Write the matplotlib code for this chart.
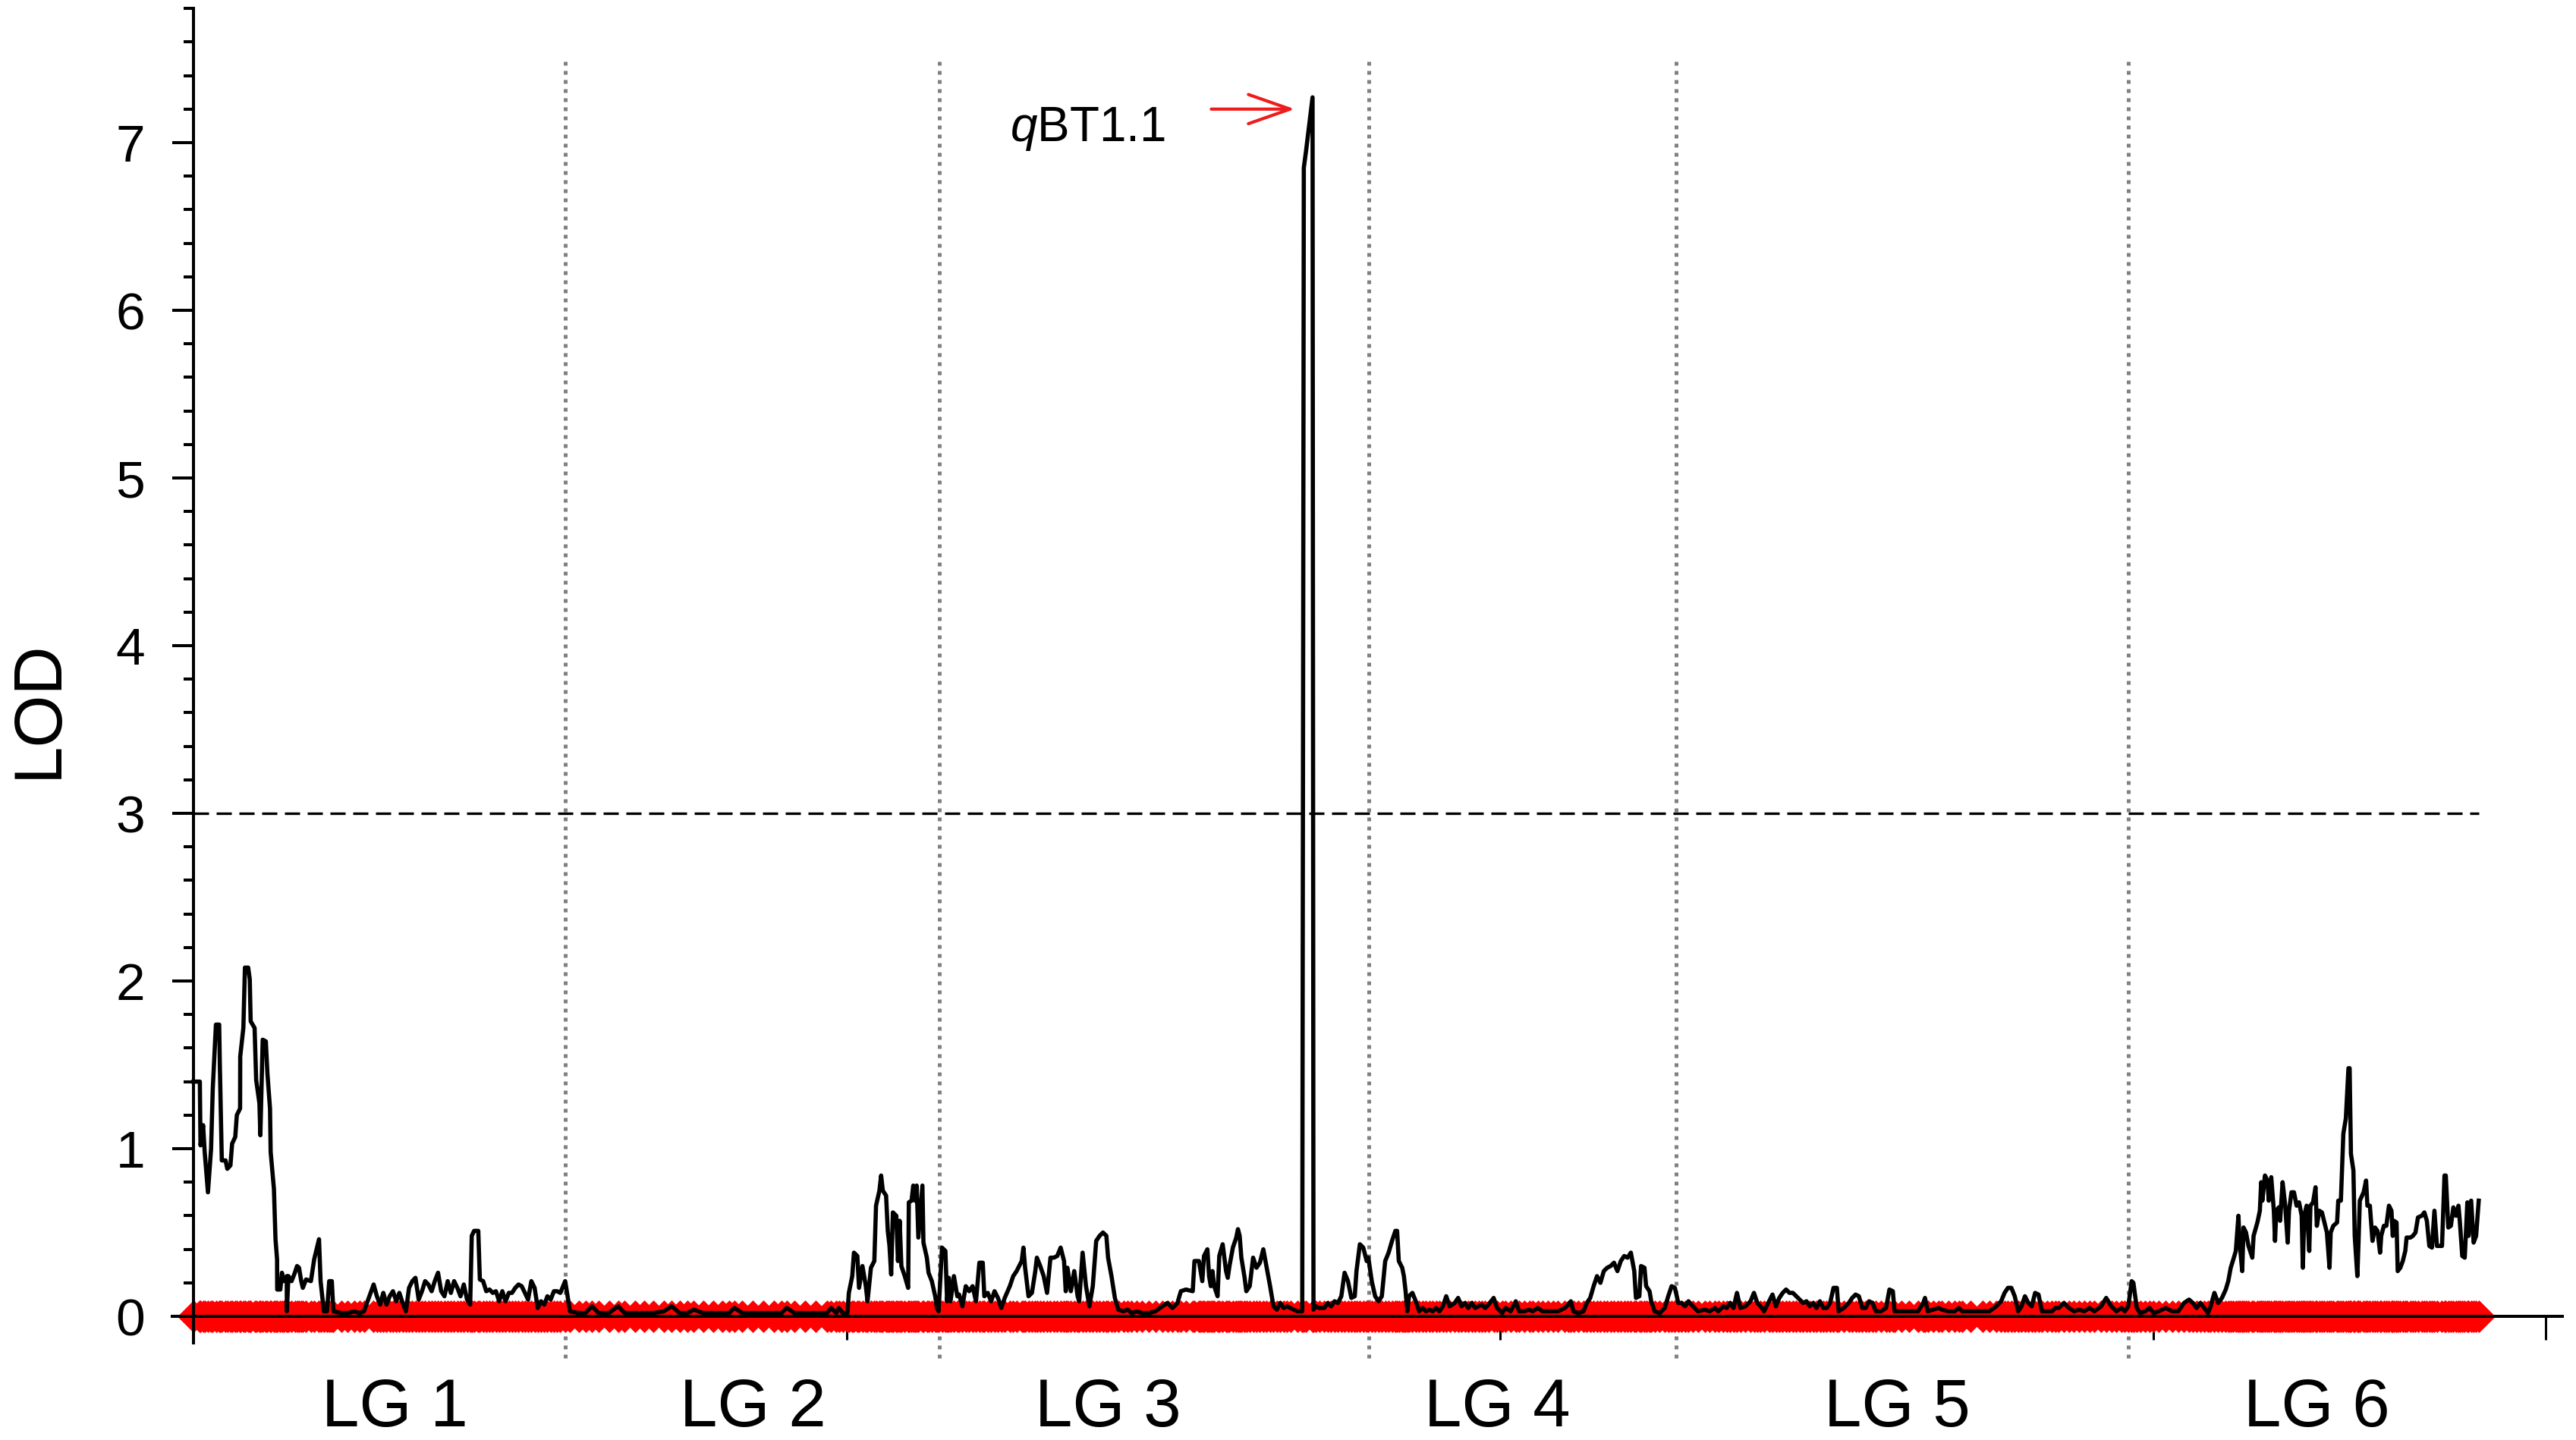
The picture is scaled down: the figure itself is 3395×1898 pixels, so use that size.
import matplotlib
matplotlib.use('Agg')
import matplotlib.pyplot as plt
import numpy as np
from matplotlib.ticker import MultipleLocator

plt.rcParams['font.family'] = 'Liberation Sans'
plt.rcParams['mathtext.fontset'] = 'custom'
plt.rcParams['mathtext.it'] = 'Liberation Sans:italic'
plt.rcParams['mathtext.rm'] = 'Liberation Sans'

# (position cM, LOD), one list per linkage group
lg1 = [(0, 1.40), (4.9, 1.40), (5.4, 1.02), (7.4, 1.14), (8.6, 0.98), (11.1, 0.74), (13.5, 1.00),
       (14.8, 1.36), (17.2, 1.74), (19.7, 1.74), (20.2, 1.50), (21.7, 0.93), (24.6, 0.93), (25.9, 0.88),
       (28.3, 0.90), (29.6, 1.03), (32.0, 1.07), (33.2, 1.20), (35.7, 1.24), (35.8, 1.55), (38.2, 1.72),
       (39.4, 2.08), (41.9, 2.08), (43.1, 2.01), (43.8, 1.76), (46.8, 1.72), (48.0, 1.41), (50.5, 1.27),
       (51.2, 1.08), (53.0, 1.65), (55.4, 1.64), (56.6, 1.45), (58.6, 1.24), (59.1, 0.98), (61.6, 0.76),
       (62.8, 0.46), (64.0, 0.34), (64.1, 0.16), (66.5, 0.16), (67.7, 0.26), (69.0, 0.21), (71.4, 0.24),
       (71.5, 0.03), (72.7, 0.24), (75.1, 0.21), (77.6, 0.26), (79.3, 0.30), (80.8, 0.29), (82.5, 0.21),
       (83.7, 0.17), (86.2, 0.22), (89.9, 0.21), (92.4, 0.34), (96.1, 0.46), (97.3, 0.21), (99.8, 0.03),
       (102.2, 0.03), (103.9, 0.21), (105.9, 0.21), (107.1, 0.03), (113.3, 0.02), (118.0, 0.02),
       (123.2, 0.03), (127.0, 0.02), (130.5, 0.03), (137.9, 0.19), (140.4, 0.12), (142.9, 0.07),
       (145.3, 0.14), (147.8, 0.07), (150.2, 0.12), (152.7, 0.15), (155.2, 0.09), (157.6, 0.14),
       (160.1, 0.08), (162.6, 0.03), (165.0, 0.17), (167.5, 0.21), (169.9, 0.23), (172.4, 0.10),
       (174.9, 0.15), (177.3, 0.21), (179.8, 0.19), (182.3, 0.15), (184.7, 0.21), (187.2, 0.26),
       (189.6, 0.15), (192.1, 0.12), (194.6, 0.21), (197.0, 0.14), (199.5, 0.21), (202.0, 0.17),
       (204.4, 0.12), (206.9, 0.19), (209.4, 0.10), (211.8, 0.07), (213.0, 0.48), (214.8, 0.51),
       (218.0, 0.51), (219.2, 0.22), (221.7, 0.21), (224.1, 0.15), (226.6, 0.16), (229.1, 0.14),
       (231.5, 0.15), (234.0, 0.09), (236.4, 0.15), (238.9, 0.09), (241.4, 0.14), (243.8, 0.14),
       (246.3, 0.17), (248.8, 0.19), (251.2, 0.18), (253.7, 0.14), (256.1, 0.10), (258.6, 0.21),
       (261.1, 0.17), (263.5, 0.05), (266.0, 0.09), (268.5, 0.07), (270.9, 0.12), (273.4, 0.10),
       (275.9, 0.15), (278.3, 0.15), (280.8, 0.14), (284.5, 0.21)]

lg2 = [(288.2, 0.03), (295, 0.02), (300, 0.02), (305, 0.06), (310, 0.02), (318, 0.02), (325, 0.06),
       (330, 0.02), (338, 0.02), (345, 0.02), (352, 0.02), (360, 0.03), (366, 0.06), (372, 0.02),
       (378, 0.02), (383, 0.04), (390, 0.02), (398, 0.02), (405, 0.02), (410, 0.02), (414, 0.05),
       (420, 0.02), (428, 0.02), (436, 0.02), (444, 0.02), (450, 0.02), (454, 0.05), (460, 0.02),
       (468, 0.02), (476, 0.02), (485, 0.02), (488, 0.05), (492, 0.02), (494, 0.05), (497, 0.02),
       (500.5, 0.02), (501.6, 0.14), (504.2, 0.24), (505.5, 0.38), (508.1, 0.36), (509.4, 0.17),
       (512.0, 0.30), (514.6, 0.18), (515.9, 0.09), (518.5, 0.29), (521.1, 0.33), (522.4, 0.66),
       (525.0, 0.75), (526.3, 0.84), (527.6, 0.75), (530.1, 0.72), (531.4, 0.51), (532.7, 0.42),
       (534.0, 0.25), (535.3, 0.62), (537.9, 0.60), (539.2, 0.33), (540.5, 0.57), (541.8, 0.30),
       (544.4, 0.24), (547.0, 0.17), (547.5, 0.68), (549.6, 0.69), (550.9, 0.78), (552.2, 0.69),
       (553.5, 0.78), (554.8, 0.47), (557.9, 0.78), (558.7, 0.44), (561.3, 0.35), (562.6, 0.26),
       (565.1, 0.21), (567.7, 0.12), (569.0, 0.05), (570.3, 0.03)]

lg3 = [(572.9, 0.41), (575.5, 0.39), (576.8, 0.09), (578.1, 0.23), (579.4, 0.09), (582.0, 0.24),
       (584.6, 0.12), (586.0, 0.13), (588.5, 0.06), (591.1, 0.18), (593.7, 0.15), (596.3, 0.18),
       (598.9, 0.09), (601.5, 0.32), (604.1, 0.32), (605.3, 0.12), (607.9, 0.14), (610.5, 0.09),
       (613.1, 0.15), (615.7, 0.11), (618.3, 0.05), (620.9, 0.11), (624.8, 0.18), (627.4, 0.24),
       (630.0, 0.27), (633.9, 0.33), (635.2, 0.41), (636.5, 0.29), (639.1, 0.12), (641.7, 0.14),
       (644.3, 0.27), (645.5, 0.35), (648.1, 0.30), (650.7, 0.24), (653.3, 0.14), (655.9, 0.35),
       (658.5, 0.35), (661.1, 0.36), (663.7, 0.41), (666.3, 0.33), (667.6, 0.15), (668.9, 0.29),
       (671.5, 0.15), (674.1, 0.27), (676.7, 0.12), (677.9, 0.09), (680.5, 0.38), (683.1, 0.18),
       (685.7, 0.06), (688.3, 0.18), (690.9, 0.45), (693.5, 0.48), (696.1, 0.50), (698.7, 0.48),
       (700.0, 0.35), (702.6, 0.24), (705.2, 0.11), (707.8, 0.04), (711.7, 0.03), (715.0, 0.04),
       (718.0, 0.02), (722.0, 0.03), (725.9, 0.02), (731.0, 0.02), (736.3, 0.03), (741.5, 0.06),
       (745.4, 0.08), (749.3, 0.05), (753.1, 0.08), (755.7, 0.15), (759.6, 0.16), (764.8, 0.15),
       (766.1, 0.33), (769.5, 0.33), (770.8, 0.27), (772.1, 0.21), (773.4, 0.36), (776.0, 0.40),
       (777.3, 0.24), (778.6, 0.18), (779.9, 0.27), (781.2, 0.18), (783.8, 0.12), (785.1, 0.36),
       (787.7, 0.43), (790.3, 0.27), (791.6, 0.23), (792.9, 0.30), (795.5, 0.41), (798.1, 0.47),
       (799.4, 0.52), (800.7, 0.48), (802.0, 0.35), (804.5, 0.23), (805.8, 0.15), (808.4, 0.18),
       (811.0, 0.35), (813.6, 0.29), (816.2, 0.32), (818.8, 0.40), (821.4, 0.29), (824.0, 0.18),
       (826.6, 0.06), (829.2, 0.04), (831.8, 0.08), (834.4, 0.05), (836.9, 0.06), (839.5, 0.05),
       (844.7, 0.03), (848.6, 0.03), (849.8, 6.85), (851.5, 6.95), (856.5, 7.27), (857.2, 0.04),
       (859.0, 0.06), (861.6, 0.05), (865.5, 0.05), (868.1, 0.08), (870.7, 0.06), (873.3, 0.09),
       (875.9, 0.08), (878.5, 0.12), (881.0, 0.26), (883.6, 0.21), (886.2, 0.11), (888.8, 0.12),
       (890.1, 0.27), (892.7, 0.43), (895.3, 0.41), (897.9, 0.33), (899.2, 0.35)]

lg4 = [(901.8, 0.21), (904.4, 0.12), (907.0, 0.09), (909.5, 0.12), (912.1, 0.33), (914.7, 0.38),
       (917.3, 0.45), (919.9, 0.51), (921.2, 0.51), (922.5, 0.33), (925.1, 0.29), (926.4, 0.24),
       (927.7, 0.15), (929.0, 0.03), (930.3, 0.12), (932.9, 0.14), (935.5, 0.09), (938.1, 0.03),
       (940.7, 0.05), (943.3, 0.03), (945.9, 0.04), (948.5, 0.03), (951.0, 0.05), (953.6, 0.03),
       (956.2, 0.06), (958.8, 0.12), (961.4, 0.06), (965.3, 0.08), (967.9, 0.11), (970.5, 0.06),
       (973.1, 0.08), (975.7, 0.05), (978.3, 0.08), (980.9, 0.05), (983.5, 0.06), (986.0, 0.07),
       (988.6, 0.05), (991.2, 0.07), (995.1, 0.11), (997.7, 0.05), (1001.6, 0.02), (1004.2, 0.05),
       (1008.1, 0.03), (1012.0, 0.09), (1014.6, 0.03), (1018.5, 0.03), (1022.4, 0.04), (1025.0, 0.03),
       (1028.8, 0.05), (1032.5, 0.03), (1036.6, 0.03), (1040.5, 0.03), (1044.4, 0.03), (1049.6, 0.05),
       (1052.2, 0.07), (1054.2, 0.09), (1056.1, 0.03), (1060.0, 0.02), (1063.8, 0.03), (1066.4, 0.08),
       (1069.0, 0.11), (1071.6, 0.18), (1074.2, 0.24), (1076.8, 0.20), (1079.4, 0.27), (1082.0, 0.29),
       (1084.6, 0.30), (1087.2, 0.32), (1089.8, 0.27), (1092.4, 0.33), (1095.0, 0.36), (1097.6, 0.35),
       (1100.1, 0.38), (1102.7, 0.27), (1104.0, 0.11), (1106.6, 0.12), (1107.9, 0.30), (1110.5, 0.29),
       (1111.8, 0.18), (1114.4, 0.15), (1115.7, 0.09), (1118.3, 0.03), (1122.2, 0.02), (1126.1, 0.05),
       (1128.7, 0.12), (1131.3, 0.18), (1133.8, 0.17)]

lg5 = [(1136.4, 0.08), (1139.0, 0.08), (1141.6, 0.06), (1144.2, 0.09), (1147.6, 0.06), (1151.5, 0.03),
       (1156.7, 0.04), (1160.5, 0.03), (1164.4, 0.05), (1167.0, 0.03), (1170.9, 0.06), (1173.5, 0.05),
       (1176.1, 0.08), (1178.7, 0.05), (1181.3, 0.14), (1183.9, 0.05), (1187.8, 0.06), (1191.7, 0.09),
       (1194.3, 0.14), (1196.9, 0.08), (1199.4, 0.06), (1202.0, 0.03), (1205.9, 0.09), (1208.5, 0.13),
       (1211.1, 0.06), (1213.7, 0.11), (1216.3, 0.14), (1218.9, 0.16), (1221.5, 0.14), (1224.1, 0.14),
       (1226.7, 0.12), (1229.3, 0.10), (1231.9, 0.08), (1234.5, 0.09), (1237.0, 0.06), (1239.6, 0.08),
       (1242.2, 0.05), (1244.8, 0.09), (1247.4, 0.05), (1250.0, 0.05), (1252.6, 0.08), (1255.2, 0.17),
       (1257.8, 0.17), (1259.1, 0.03), (1263.0, 0.05), (1266.9, 0.08), (1269.5, 0.11), (1272.1, 0.13),
       (1274.6, 0.12), (1277.2, 0.05), (1279.8, 0.05), (1282.4, 0.09), (1285.0, 0.08), (1287.6, 0.03),
       (1291.5, 0.03), (1295.4, 0.05), (1298.0, 0.16), (1300.6, 0.15), (1301.9, 0.03), (1307.1, 0.03),
       (1313.0, 0.03), (1320.0, 0.03), (1323.9, 0.08), (1325.2, 0.11), (1327.3, 0.03), (1331.5, 0.04),
       (1335.6, 0.05), (1338.2, 0.04), (1343.0, 0.03), (1348.0, 0.03), (1351.1, 0.05), (1353.7, 0.03),
       (1360.0, 0.03), (1369.3, 0.03), (1374.5, 0.03), (1379.7, 0.06), (1383.5, 0.09), (1386.1, 0.14),
       (1388.7, 0.17), (1391.3, 0.17), (1393.9, 0.12), (1396.5, 0.03), (1399.1, 0.06), (1401.7, 0.12),
       (1404.3, 0.08), (1406.9, 0.06), (1409.5, 0.14), (1412.1, 0.13), (1414.7, 0.03), (1418.6, 0.03),
       (1422.4, 0.03), (1425.0, 0.05), (1427.6, 0.05), (1431.5, 0.08), (1435.4, 0.05), (1439.3, 0.03),
       (1443.2, 0.04), (1447.1, 0.03), (1451.0, 0.05), (1454.9, 0.03), (1460.0, 0.06), (1463.9, 0.11),
       (1467.8, 0.06), (1471.7, 0.03), (1475.6, 0.05), (1478.2, 0.03), (1480.8, 0.06)]

lg6 = [(1483.4, 0.21), (1484.7, 0.20), (1487.3, 0.05), (1489.9, 0.02), (1493.8, 0.03), (1497.0, 0.05),
       (1500.2, 0.02), (1504.1, 0.03), (1509.3, 0.05), (1514.5, 0.03), (1519.0, 0.03), (1523.5, 0.08),
       (1527.3, 0.10), (1530.2, 0.08), (1533.1, 0.05), (1536.0, 0.08), (1538.9, 0.05), (1541.8, 0.02),
       (1543.8, 0.06), (1546.7, 0.14), (1549.6, 0.08), (1552.5, 0.11), (1555.4, 0.16), (1557.3, 0.21),
       (1559.2, 0.29), (1561.2, 0.34), (1563.1, 0.39), (1565.1, 0.60), (1566.0, 0.44), (1568.0, 0.27),
       (1569.0, 0.53), (1570.9, 0.50), (1572.8, 0.42), (1575.7, 0.35), (1576.7, 0.48), (1579.6, 0.56),
       (1581.5, 0.63), (1582.5, 0.80), (1583.4, 0.69), (1585.4, 0.84), (1587.3, 0.81), (1588.3, 0.69),
       (1590.2, 0.83), (1592.2, 0.63), (1593.1, 0.45), (1594.1, 0.63), (1596.0, 0.65), (1597.0, 0.57),
       (1598.9, 0.80), (1600.9, 0.66), (1602.8, 0.44), (1603.8, 0.63), (1605.7, 0.74), (1607.6, 0.74),
       (1609.6, 0.66), (1611.5, 0.68), (1613.5, 0.60), (1614.4, 0.29), (1615.4, 0.60), (1617.3, 0.66),
       (1619.3, 0.39), (1620.2, 0.66), (1622.2, 0.68), (1624.1, 0.77), (1625.1, 0.54), (1627.0, 0.63),
       (1629.0, 0.62), (1630.9, 0.56), (1632.8, 0.50), (1634.8, 0.29), (1635.7, 0.50), (1637.7, 0.54),
       (1640.6, 0.56), (1641.5, 0.69), (1643.5, 0.69), (1645.4, 1.09), (1647.3, 1.18), (1649.3, 1.48),
       (1650.2, 1.48), (1651.2, 0.97), (1653.1, 0.87), (1654.1, 0.48), (1656.1, 0.24), (1657.0, 0.44),
       (1658.0, 0.69), (1660.9, 0.74), (1662.8, 0.81), (1663.8, 0.66), (1665.7, 0.66), (1667.7, 0.45),
       (1669.6, 0.53), (1671.5, 0.51), (1673.5, 0.38), (1674.4, 0.48), (1676.4, 0.54), (1678.3, 0.54),
       (1680.3, 0.66), (1682.2, 0.63), (1683.2, 0.48), (1684.1, 0.57), (1686.1, 0.56), (1687.0, 0.27),
       (1689.0, 0.29), (1690.9, 0.33), (1692.8, 0.39), (1693.8, 0.47), (1696.7, 0.47), (1698.6, 0.48),
       (1700.6, 0.50), (1702.5, 0.59), (1705.4, 0.60), (1707.4, 0.62), (1709.3, 0.57), (1711.2, 0.42),
       (1713.2, 0.41), (1715.1, 0.63), (1717.0, 0.42), (1720.9, 0.42), (1722.8, 0.84), (1723.8, 0.84),
       (1725.7, 0.53), (1727.7, 0.54), (1729.6, 0.65), (1731.6, 0.60), (1733.5, 0.66), (1734.5, 0.57),
       (1736.4, 0.36), (1738.3, 0.35), (1740.3, 0.68), (1741.2, 0.48), (1743.2, 0.69), (1745.1, 0.44),
       (1747.0, 0.48), (1749.0, 0.69)]

lg_bounds = [284.5, 570.8, 899.5, 1135.0, 1481.0]
lg_names = ['LG 1', 'LG 2', 'LG 3', 'LG 4', 'LG 5', 'LG 6']
lg_label_x = [154, 428, 700, 998, 1304, 1625]
threshold = 3.0
x_ticks = [0, 500, 1000, 1500, 1800]
y_ticks = [0, 1, 2, 3, 4, 5, 6, 7]

# qtl annotation
qtl_name = '$q$BT1.1'
qtl_text_xy = (624.8, 7.01)
arrow_from = (779, 7.2)
arrow_to = (843, 7.2)

pos, lod = np.array(lg1 + lg2 + lg3 + lg4 + lg5 + lg6).T

fig = plt.figure(figsize=(33.95, 18.98), dpi=100)
ax = fig.add_axes([0.06698, 0.06723, 0.92772, 0.92687])
ax.set_xlim(-16, 1813)
ax.set_ylim(-0.16, 7.8)

# linkage group separators
for b in lg_bounds:
    ax.plot([b, b], [-0.25, 7.5], color='#808080', lw=3.6, ls=(0, (1, 1.4)),
            zorder=1, clip_on=False)

# markers along the map
ax.plot(pos, np.zeros_like(pos), ls='none', marker='D', ms=21, mfc='#ff0000',
        mec='#ff0000', mew=0.5, zorder=2, clip_on=False)

# LOD threshold
ax.plot([0, pos[-1]], [threshold, threshold], color='black', lw=2.4,
        ls=(0, (6, 3)), zorder=2.6)

ax.plot(pos, lod, color='black', lw=4.0, zorder=3)

for s in ['top', 'right']:
    ax.spines[s].set_visible(False)
ax.spines['left'].set_position(('data', 0))
ax.spines['bottom'].set_position(('data', 0))
for s in ['left', 'bottom']:
    ax.spines[s].set_linewidth(2.9)
    ax.spines[s].set_zorder(4)

ax.set_yticks(y_ticks)
ax.yaxis.set_minor_locator(MultipleLocator(0.2))
ax.tick_params(axis='y', which='major', length=20, width=2.9, labelsize=50, pad=26)
ax.tick_params(axis='y', which='minor', length=9.5, width=2.9)
ax.set_xticks(x_ticks)
ax.set_xticklabels([])
ax.tick_params(axis='x', which='major', length=22, width=2.2)

for name, x in zip(lg_names, lg_label_x):
    ax.text(x, -0.655, name, ha='center', va='baseline', fontsize=64, clip_on=False)

ax.text(qtl_text_xy[0], qtl_text_xy[1], qtl_name, fontsize=46, ha='left', va='baseline')
ax.annotate('', xy=arrow_to, xytext=arrow_from,
            arrowprops=dict(arrowstyle='->,head_length=0.4,head_width=0.14', color='#ee1c1c',
                            lw=3, mutation_scale=99, shrinkA=0, shrinkB=0))

fig.text(52 / 3395, 1 - 935 / 1898, 'LOD', rotation=90, fontsize=64, ha='center', va='center')

fig.savefig('out.png', dpi=100)
